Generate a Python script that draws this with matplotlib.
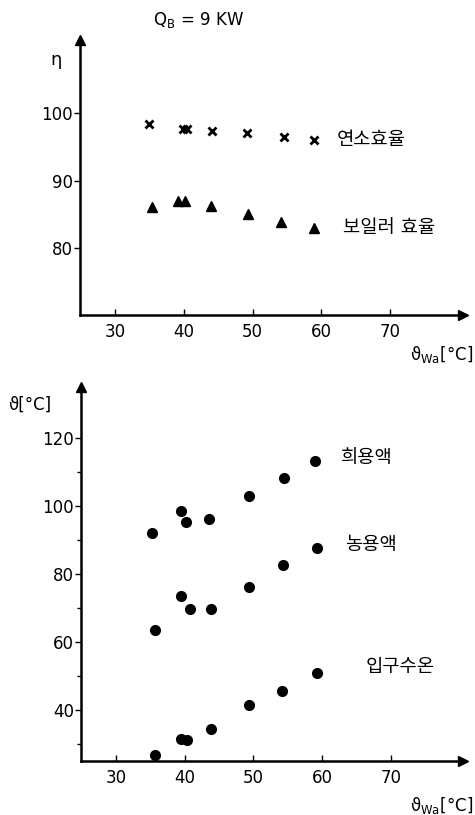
import matplotlib
matplotlib.use('Agg')
import matplotlib.pyplot as plt

plt.rcParams['font.family'] = ['DejaVu Sans', 'Noto Sans CJK KR']
plt.rcParams['mathtext.fontset'] = 'dejavusans'

# górny wykres: sprawność
x_comb = [34.9, 39.9, 40.5, 44.1, 49.2, 54.6, 59.0]
eta_comb = [98.3, 97.6, 97.6, 97.4, 97.0, 96.4, 96.0]
x_boil = [35.3, 39.1, 40.1, 43.9, 49.3, 54.2, 59.0]
eta_boil = [86.1, 86.9, 86.9, 86.3, 85.1, 83.8, 83.0]

# dolny wykres: temperatury
x_dil = [35.2, 39.4, 40.2, 43.6, 49.4, 54.5, 59.0]
t_dil = [92.0, 98.7, 95.4, 96.3, 103.1, 108.2, 113.2]
x_con = [35.7, 39.4, 40.7, 43.8, 49.3, 54.3, 59.2]
t_con = [63.5, 73.5, 69.8, 69.8, 76.3, 82.7, 87.6]
x_in = [35.7, 39.4, 40.4, 43.8, 49.3, 54.2, 59.2]
t_in = [26.7, 31.6, 31.3, 34.5, 41.5, 45.7, 50.9]

xticks = [30, 40, 50, 60, 70]

fig = plt.figure(figsize=(4.75, 8.15), dpi=100)
ax1 = fig.add_axes([80/475, 1-315/815, 383/475, 275/815])
ax2 = fig.add_axes([81/475, 1-760.7/815, 382/475, 374/815])


def styl(ax):
    for s in ['top', 'right']:
        ax.spines[s].set_visible(False)
    for s in ['left', 'bottom']:
        ax.spines[s].set_linewidth(1.8)
    ax.plot(1, 0, '>k', ms=7, transform=ax.transAxes, clip_on=False)
    ax.plot(0, 1, '^k', ms=7, transform=ax.transAxes, clip_on=False)
    ax.set_xticks(xticks)
    ax.tick_params(axis='x', direction='in', length=4, width=1, labelsize=12, pad=6)
    ax.tick_params(axis='y', direction='out', length=4, width=1, labelsize=12, pad=1)


ax1.set_xlim(24.9, 80.6)
ax1.set_ylim(70.1, 110.8)
styl(ax1)
ax1.set_yticks([80, 90, 100])
ax1.plot(x_comb, eta_comb, 'kx', ms=6, mew=2)
ax1.plot(x_boil, eta_boil, 'k^', ms=7)
ax1.text(62.3, 96.0, '연소효율', fontsize=13.5, va='center')
ax1.text(63.2, 83.0, '보일러 효율', fontsize=13.5, va='center')

ax2.set_xlim(24.9, 80.5)
ax2.set_ylim(25.1, 135.2)
styl(ax2)
ax2.set_yticks([40, 60, 80, 100, 120])
ax2.set_yticks([30, 50, 70, 90, 110], minor=True)
ax2.tick_params(axis='y', which='minor', direction='out', length=3, width=1)
ax2.plot(x_dil, t_dil, 'ko', ms=7)
ax2.plot(x_con, t_con, 'ko', ms=7)
ax2.plot(x_in, t_in, 'ko', ms=7)
ax2.text(62.7, 114.5, '희용액', fontsize=13.5, va='center')
ax2.text(63.4, 88.6, '농용액', fontsize=13.5, va='center')
ax2.text(66.4, 52.7, '입구수온', fontsize=13.5, va='center')

# opisy osi i tytuł
fig.text(153/475, 1-20/815, r'$\mathregular{Q_B}$ = 9 KW', fontsize=12, va='center')
fig.text(50/475, 1-60/815, 'η', fontsize=13, va='center')
fig.text(473/475, 1-355/815, r'ϑ$_{\mathregular{Wa}}$[°C]', fontsize=12, va='center', ha='right')
fig.text(8/475, 1-405/815, 'ϑ[°C]', fontsize=12, va='center')
fig.text(473/475, 1-805/815, r'ϑ$_{\mathregular{Wa}}$[°C]', fontsize=12, va='center', ha='right')

fig.savefig('out.png', dpi=100)
